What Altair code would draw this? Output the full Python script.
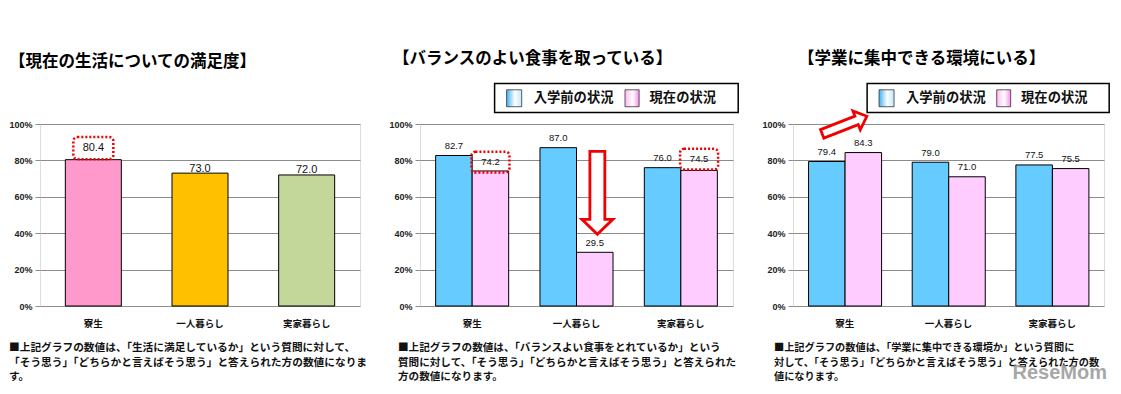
import altair as alt
import pandas as pd

# ---------------- data ----------------
categories = ["寮生", "一人暮らし", "実家暮らし"]
series_names = ["入学前の状況", "現在の状況"]
satisfaction = [80.4, 73.0, 72.0]
meal_before = [82.7, 87.0, 76.0]
meal_now = [74.2, 29.5, 74.5]
study_before = [79.4, 79.0, 77.5]
study_now = [84.3, 71.0, 75.5]
y_ticks = [0, 20, 40, 60, 80, 100]

titles = [
    "【現在の生活についての満足度】",
    "【バランスのよい食事を取っている】",
    "【学業に集中できる環境にいる】",
]
notes = [
    "■上記グラフの数値は、「生活に満足しているか」という質問に対して、\n「そう思う」「どちらかと言えばそう思う」と答えられた方の数値になりま\nす。",
    "■上記グラフの数値は、「バランスよい食事をとれているか」という\n質問に対して、「そう思う」「どちらかと言えばそう思う」と答えられた\n方の数値になります。",
    "■上記グラフの数値は、「学業に集中できる環境か」という質問に\n対して、「そう思う」「どちらかと言えばそう思う」と答えられた方の数\n値になります。",
]
watermark = "ReseMom"

# ---------------- styles ----------------
sat_colors = ["#FF99CC", "#FFC000", "#C4D79B"]
series_colors = ["#66CCFF", "#FFCCFF"]
JP = "Noto Sans CJK JP"
NUM = "Liberation Sans"
RED = "#F00000"

yscale = alt.Scale(domain=[0, 100], nice=False, zero=True)
yaxis = alt.Axis(values=y_ticks, labelExpr="datum.value + '%'", title=None, grid=True,
                 gridColor="#8C8C8C", gridWidth=1, domain=False, tickSize=5,
                 tickColor="#8C8C8C", labelFont=NUM, labelFontSize=9,
                 labelFontWeight="bold", labelColor="#222222", labelPadding=3)


def Y(field):
    return alt.Y(f"{field}:Q", scale=yscale, axis=yaxis)


xaxis = alt.Axis(title=None, labelAngle=0, ticks=False, domain=False, labelFont=JP,
                 labelFontSize=9.5, labelFontWeight="bold", labelPadding=12,
                 labelColor="#111111")


def XB(pin, show_axis=True):
    return alt.X("cat:N", sort=categories,
                 scale=alt.Scale(domain=categories, paddingInner=pin, paddingOuter=pin / 2),
                 axis=xaxis if show_axis else None)


def XO():
    return alt.XOffset("series:N", scale=alt.Scale(domain=series_names))


def XQ(field):
    return alt.X(f"{field}:Q", scale=alt.Scale(domain=[0, 3], nice=False, zero=False), axis=None)


def title_params(text, offset, dx):
    return alt.TitleParams(text=text, anchor="start", frame="bounds", font=JP, fontSize=16.5,
                           fontWeight="bold", color="#000000", offset=offset, dx=dx)


def note_layer(text, dx, height, fs):
    return alt.Chart(pd.DataFrame({"t": [text]})).mark_text(
        align="left", baseline="top", lineBreak="\n", font=JP, fontSize=fs,
        fontWeight="bold", lineHeight=14.5, color="#111111"
    ).encode(x=alt.value(dx), y=alt.value(height + 37), text="t:N")


# ---------------- panel 1 ----------------
H = 182
df1 = pd.DataFrame({"cat": categories, "v": satisfaction, "col": sat_colors,
                    "hl": [True, False, False]})
X1 = XB(0.475)
bars1 = alt.Chart(df1).mark_bar(stroke="black", strokeWidth=1).encode(
    x=X1, y=Y("v"), color=alt.Color("col:N", scale=None))
lab1 = alt.Chart(df1).transform_filter("!datum.hl").mark_text(
    baseline="alphabetic", dy=-1.5, font=NUM, fontSize=11, color="#111111"
).encode(x=X1, y=Y("v"), text=alt.Text("v:Q", format=".1f"))
box1_df = pd.DataFrame({"cat": [categories[0]], "lo": [80.7], "hi": [92.8],
                        "label": [f"{satisfaction[0]:.1f}"]})
box1 = alt.Chart(box1_df).mark_bar(width=40, fill="transparent", stroke=RED, strokeWidth=2.5,
                                   strokeDash=[2, 2], cornerRadius=4).encode(
    x=X1, y=Y("lo"), y2="hi")
boxlab1 = alt.Chart(box1_df).transform_calculate(mid="(datum.lo + datum.hi) / 2").mark_text(
    baseline="middle", font=NUM, fontSize=11, color="#111111"
).encode(x=X1, y=Y("mid"), text="label:N")
p1 = alt.layer(bars1, lab1, box1, boxlab1, note_layer(notes[0], -31, H, 10.7)).properties(
    width=320, height=H, title=title_params(titles[0], 50, 0))


# ---------------- grouped panels ----------------
def grad(c0, c1):
    return alt.Gradient(gradient="linear", x1=0, x2=1, y1=0, y2=0,
                        stops=[alt.GradientStop(color=c0, offset=0),
                               alt.GradientStop(color="#FFFFFF", offset=0.55),
                               alt.GradientStop(color=c1, offset=1)])


def legend_layers():
    box = alt.Chart(pd.DataFrame({"a": [0.715], "b": [3.05], "lo": [106.3], "hi": [122.3]})).mark_rect(
        fill="white", stroke="black", strokeWidth=1.5).encode(x=XQ("a"), x2="b", y=Y("lo"), y2="hi")
    sw1 = alt.Chart(pd.DataFrame({"a": [0.83], "b": [0.975], "lo": [109.5], "hi": [118.8]})).mark_rect(
        fill=grad("#3FB0F5", "#BDE6FF"), stroke="#333333", strokeWidth=0.8).encode(
        x=XQ("a"), x2="b", y=Y("lo"), y2="hi")
    sw2 = alt.Chart(pd.DataFrame({"a": [1.965], "b": [2.10], "lo": [109.5], "hi": [118.8]})).mark_rect(
        fill=grad("#FFB8F2", "#FF8AEE"), stroke="#333333", strokeWidth=0.8).encode(
        x=XQ("a"), x2="b", y=Y("lo"), y2="hi")
    txt = alt.Chart(pd.DataFrame({"a": [1.09, 2.20], "ty": [114.2, 114.2], "t": series_names})).mark_text(
        align="left", baseline="middle", font=JP, fontSize=13.3, fontWeight="bold", color="#111111"
    ).encode(x=XQ("a"), y=Y("ty"), text="t:N")
    return [box, sw1, sw2, txt]


def grouped_panel(before, now, hl, boxes, arrow, width, title, t_off, t_dx, note, note_dx, note_fs,
                  extra=()):
    df = pd.DataFrame({
        "cat": categories * 2,
        "series": [series_names[0]] * 3 + [series_names[1]] * 3,
        "v": before + now,
        "hl": hl,
    })
    bars = alt.Chart(df).mark_bar(stroke="black", strokeWidth=1).encode(
        x=XB(0.3), xOffset=XO(), y=Y("v"),
        color=alt.Color("series:N", scale=alt.Scale(domain=series_names, range=series_colors),
                        legend=None))
    labs = alt.Chart(df).transform_filter("!datum.hl").mark_text(
        baseline="alphabetic", dy=-6.5, font=NUM, fontSize=9.5, color="#111111"
    ).encode(x=XB(0.3, False), xOffset=XO(), y=Y("v"), text=alt.Text("v:Q", format=".1f"))
    layers = [bars, labs]
    if boxes is not None:
        bx = alt.Chart(boxes).mark_bar(width=38, fill="transparent", stroke=RED, strokeWidth=2.5,
                                       strokeDash=[2, 2], cornerRadius=4).encode(
            x=XB(0.3, False), xOffset=XO(), y=Y("lo"), y2="hi")
        bl = alt.Chart(boxes).transform_calculate(mid="(datum.lo + datum.hi) / 2").mark_text(
            baseline="middle", font=NUM, fontSize=9.5, color="#111111"
        ).encode(x=XB(0.3, False), xOffset=XO(), y=Y("mid"), text="label:N")
        layers += [bx, bl]
    # arrow annotation
    ar = alt.Chart(pd.DataFrame({"ax": [arrow["x"]], "ay": [arrow["y"]]})).mark_point(
        shape=arrow["path"], size=arrow["size"], angle=arrow["angle"], filled=True,
        fill="white", stroke=RED, strokeWidth=2.8, opacity=1, strokeJoin="miter"
    ).encode(x=XQ("ax"), y=Y("ay"))
    layers.append(ar)
    layers += legend_layers()
    layers.append(note_layer(note, note_dx, H, note_fs))
    layers += list(extra)
    return alt.layer(*layers).resolve_scale(x="independent").properties(
        width=width, height=H, title=title_params(title, t_off, t_dx))


box2 = pd.DataFrame({
    "cat": [categories[0], categories[2]],
    "series": [series_names[1], series_names[1]],
    "lo": [73.4, 75.0], "hi": [84.8, 86.4],
    "label": [f"{meal_now[0]:.1f}", f"{meal_now[2]:.1f}"],
})
down_arrow = {
    "x": 1.70, "y": 62.2, "size": 83 * 83, "angle": 0,
    "path": "M -0.18 -1 L 0.18 -1 L 0.18 0.64 L 0.373 0.64 L 0 1 L -0.373 0.64 L -0.18 0.64 Z",
}
up_arrow = {
    "x": 0.497, "y": 99.4, "size": 48 * 48, "angle": 338.5,
    "path": "M -1 -0.19 L 0.54 -0.19 L 0.54 -0.42 L 1 0 L 0.54 0.42 L 0.54 0.19 L -1 0.19 Z",
}

p2 = grouped_panel(meal_before, meal_now, [False, False, False, True, False, True], box2,
                   down_arrow, 313, titles[1], 15, 4, notes[1], -22, 10.6)

wm = alt.Chart(pd.DataFrame({"t": [watermark]})).mark_text(
    align="right", baseline="middle", font=NUM, fontSize=20, fontWeight="bold",
    color="#8A8A8A", opacity=0.75
).encode(x=alt.value(314), y=alt.value(249), text="t:N")

p3 = grouped_panel(study_before, study_now, [False] * 6, None, up_arrow, 311, titles[2], 15, 36,
                   notes[2], -19, 10.2, extra=[wm])

chart = alt.hconcat(p1, p2, p3, spacing=60, bounds="flush").properties(
    padding={"left": 0, "top": 42, "right": 0, "bottom": 0}
).configure_view(stroke="black", strokeWidth=1).configure(background="white", font=JP)

chart.save("out.html", embed_options={"renderer": "svg", "actions": False})
